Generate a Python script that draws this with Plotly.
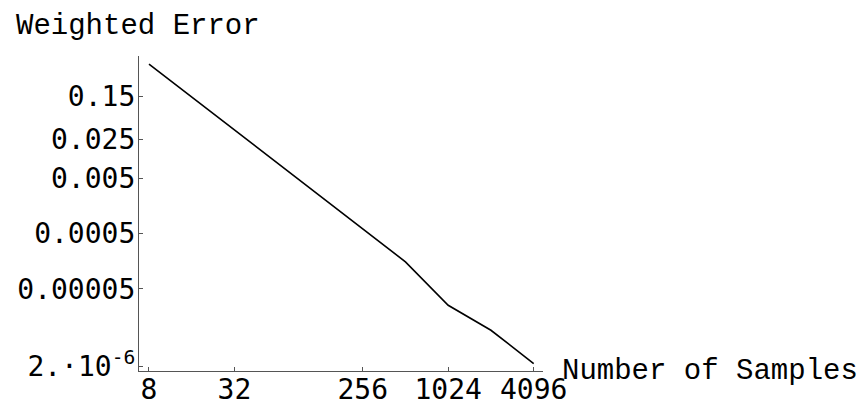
import plotly.graph_objects as go

samples = [8, 16, 32, 64, 128, 256, 512, 1024, 2048, 4096]
error = [0.574, 0.146, 0.0370, 0.00938, 0.00238, 0.000604, 0.000154, 2.53e-5, 8.95e-6, 2.24e-6]

x_tickvals = [8, 32, 256, 1024, 4096]
x_ticktext = ["8", "32", "256", "1024", "4096"]
y_tickvals = [0.15, 0.025, 0.005, 0.0005, 0.00005, 2e-6]
y_ticktext = ["0.15", "0.025", "0.005", "0.0005", "0.00005", "2.·10<sup>-6</sup>"]

x_title = "Number of Samples"
y_title = "Weighted Error"

tick_font = dict(family="DejaVu Sans Mono", size=28, color="black")
label_font = dict(family="Liberation Mono, Courier New, DejaVu Sans Mono", size=29, color="black")

fig = go.Figure()
fig.add_trace(go.Scatter(x=samples, y=error, mode="lines",
                         line=dict(color="black", width=1.6), showlegend=False))

axis_common = dict(showline=True, linecolor="#555555", linewidth=1.2, mirror=False,
                   showgrid=False, zeroline=False, ticks="inside", ticklen=4,
                   tickcolor="#555555", tickwidth=1, tickfont=tick_font, automargin=False)

fig.update_xaxes(type="log", range=[0.8327, 3.678], tickvals=x_tickvals,
                 ticktext=x_ticktext, ticklabelstandoff=-7, **axis_common)
fig.update_yaxes(type="log", range=[-5.784, -0.096], tickvals=y_tickvals,
                 ticktext=y_ticktext, ticklabelstandoff=-3, **axis_common)

fig.add_annotation(text=y_title, xref="paper", yref="paper", x=-0.31, y=1.095,
                   xanchor="left", yanchor="middle", showarrow=False, font=label_font)
fig.add_annotation(text=x_title, xref="paper", yref="paper", x=1.042, y=0.0,
                   xanchor="left", yanchor="middle", showarrow=False, font=label_font)

fig.update_layout(width=868, height=408, margin=dict(l=139, r=325, t=56, b=37, autoexpand=False),
                  paper_bgcolor="white", plot_bgcolor="white")

fig.write_html("out.html")
